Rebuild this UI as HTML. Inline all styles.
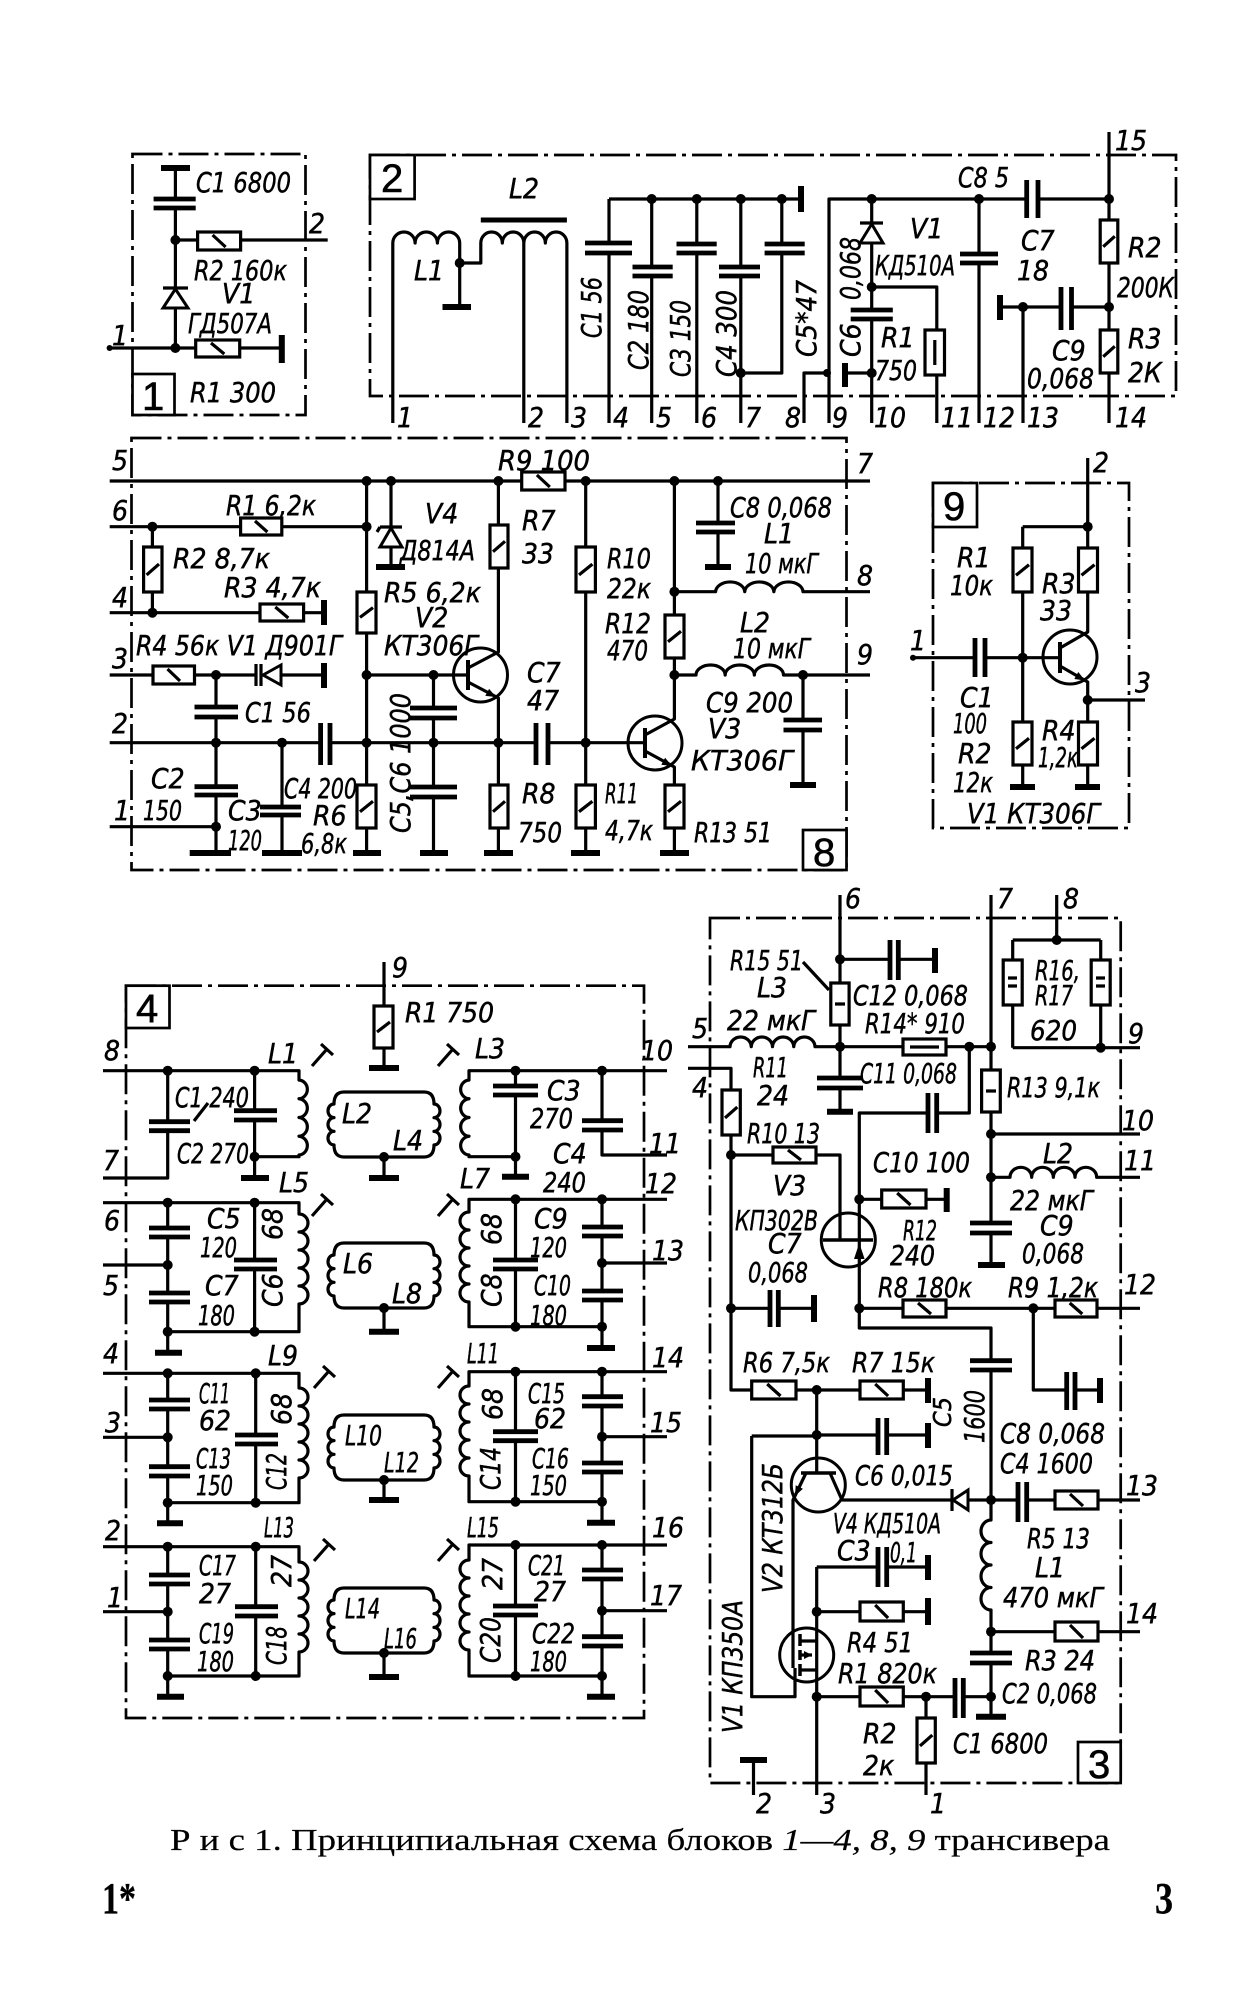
<!DOCTYPE html>
<html><head><meta charset="utf-8"><style>
html,body{margin:0;padding:0;background:#fff}
svg{display:block}
.w{stroke:#000;stroke-width:3.2;fill:none;stroke-linejoin:round}
.p{stroke:#000;stroke-width:4.8;fill:none}
.g{stroke:#000;stroke-width:6;fill:none}
.c{stroke:#000;stroke-width:5;fill:none}
.r{stroke:#000;stroke-width:3.2;fill:#fff}
.b{stroke:#000;stroke-width:2.7;fill:none;stroke-dasharray:30 6 4 6}
.lb{stroke:#000;stroke-width:2.7;fill:#fff}
.tr{stroke:#000;stroke-width:3;fill:none}
.d{fill:#000}
.k{fill:#000;stroke:none}
.wt{fill:#fff;stroke:#000;stroke-width:3}
text{font-family:"DejaVu Sans Condensed","Liberation Sans Narrow","Liberation Sans",sans-serif;font-style:italic;font-size:28px;fill:#000;stroke:#000;stroke-width:0.45}
text.n{font-family:"Liberation Sans",sans-serif;font-style:normal;font-size:40px;stroke-width:0.6}
text.cap{font-family:"Liberation Serif",serif;font-style:normal;font-size:31px;stroke-width:0.2}
text.pg{font-family:"Liberation Serif",serif;font-style:normal;font-weight:bold;font-size:44px;stroke-width:0.3}
</style></head><body>
<svg width="1253" height="2000" viewBox="0 0 1253 2000" xmlns="http://www.w3.org/2000/svg">
<defs>
<path id="loop" d="M344,0 H424 Q434,0 434,12 a6,6.83 0 0 1 0,13.67 a6,6.83 0 0 1 0,13.67 a6,6.83 0 0 1 0,13.67 Q434,65 424,65 H344 Q334,65 334,53 a6,6.83 0 0 1 0,-13.67 a6,6.83 0 0 1 0,-13.67 a6,6.83 0 0 1 0,-13.67 Q334,0 344,0 Z"/>
<path id="tn" d="M0,18 L15,1 M9,-4 L21,7"/>
</defs>
<rect width="1253" height="2000" fill="#fff"/>

<!-- ================= BLOCK 1 ================= -->
<path class="b" d="M132.5,154 H305.5 V415 H132.5 Z"/>
<rect class="lb" x="132.5" y="374" width="42" height="41"/>
<text class="n" x="142" y="410">1</text>
<path class="w" d="M175.4,168 V199 M175.4,208 V348 M175.4,240 H327.7 M109.6,348 H281.8"/>
<path class="p" d="M153.6,199 H195.7 M153.6,208 H195.7"/>
<path class="g" d="M161,168 H190 M281.8,335 V363"/>
<rect class="r" x="197.6" y="232" width="43" height="18"/>
<rect class="r" x="195.7" y="340" width="44" height="17"/>
<path class="w" d="M212.6,235 L225.6,247 M211,343 L224.3,354 M163,288 H188"/>
<polygon class="wt" points="175.4,289 163,308 188,308"/>
<circle class="d" cx="175.4" cy="240" r="5"/><circle class="d" cx="175.4" cy="348" r="5"/><circle class="d" cx="109.6" cy="348" r="3"/>
<text x="196" y="192" textLength="95" lengthAdjust="spacingAndGlyphs">C1 6800</text>
<text x="194" y="280" textLength="93" lengthAdjust="spacingAndGlyphs">R2 160к</text>
<text x="222" y="303">V1</text>
<text x="188" y="333" textLength="84" lengthAdjust="spacingAndGlyphs">ГД507А</text>
<text x="190" y="402" textLength="86" lengthAdjust="spacingAndGlyphs">R1 300</text>
<text x="309" y="233">2</text>
<text x="112" y="345">1</text>

<!-- ================= BLOCK 2 ================= -->
<path class="b" d="M370,155 H1176 V396 H370 Z"/>
<rect class="lb" x="370" y="155" width="44.6" height="44"/>
<text class="n" x="381" y="192">2</text>
<path class="w" d="M392.8,423 V243 a11.15,11 0 0 1 22.3,0 a11.15,11 0 0 1 22.3,0 a11.15,11 0 0 1 22.3,0 V307
M459.7,263 H480.8 V243 a10.76,11 0 0 1 21.52,0 a10.76,11 0 0 1 21.52,0 a10.76,11 0 0 1 21.52,0 a10.76,11 0 0 1 21.52,0 V423
M523.8,243 V423
M609,199 H801
M609,199 V243 M609,253 V423
M651.7,199 V267 M651.7,276 V423
M696.8,199 V244 M696.8,253 V423
M740.8,199 V267 M740.8,276 V423
M781.8,199 V244 M781.8,253 V373 H740.8
M804,423 V373 H827
M829,423 V199 H1026.7 M1038,199 H1109
M871.7,199 V287 H936.8 V423
M871.7,287 V310 M871.7,319 V423 M845,373 H871.7
M979,199 V254 M979,263 V423
M1109,132 V423
M1109,307 H1071.5 M1061,307 H1000 M1023,307 V423"/>
<path class="c" d="M480.8,220 H566.9"/>
<path class="p" d="M585,243 H632 M585,253 H632 M632.5,267 H672.7 M632.5,276 H672.7 M676.5,244 H716.7 M676.5,253 H716.7 M719,267 H760 M719,276 H760 M764.6,244 H804.7 M764.6,253 H804.7 M850.7,310 H892.8 M850.7,319 H892.8 M960,254 H998 M960,263 H998 M1026.7,180 V218 M1038,180 V218 M1061,287 V330 M1071.5,287 V330"/>
<path class="g" d="M442.5,307 H471 M801,186 V212 M845,363 V387 M1000,295 V320"/>
<rect class="r" x="925" y="330" width="19.5" height="45"/>
<rect class="r" x="1100.2" y="220" width="17.6" height="43"/>
<rect class="r" x="1100.2" y="330" width="17.6" height="43"/>
<path class="w" d="M934.8,340 V365 M1103.2,246.7 L1114.8,236.3 M1103.2,356.7 L1114.8,346.3 M860,223 H883"/>
<polygon class="wt" points="871.7,224 860,243 883,243"/>
<g class="d">
<circle cx="651.7" cy="199" r="5"/><circle cx="696.8" cy="199" r="5"/><circle cx="740.8" cy="199" r="5"/><circle cx="781.8" cy="199" r="5"/>
<circle cx="459.7" cy="263" r="5"/><circle cx="740.8" cy="373" r="5"/><circle cx="827" cy="373" r="4"/>
<circle cx="871.7" cy="199" r="5"/><circle cx="871.7" cy="287" r="5"/><circle cx="871.7" cy="373" r="5"/>
<circle cx="979" cy="199" r="5"/><circle cx="1109" cy="199" r="5"/><circle cx="1109" cy="307" r="5"/><circle cx="1023" cy="307" r="5"/>
</g>
<text x="414" y="280">L1</text>
<text x="509" y="198">L2</text>
<text transform="translate(601,338) rotate(-90)" textLength="61" lengthAdjust="spacingAndGlyphs">C1 56</text>
<text transform="translate(648,370) rotate(-90)" textLength="80" lengthAdjust="spacingAndGlyphs">C2 180</text>
<text transform="translate(690,377) rotate(-90)" textLength="77" lengthAdjust="spacingAndGlyphs">C3 150</text>
<text transform="translate(736,377) rotate(-90)" textLength="87" lengthAdjust="spacingAndGlyphs">C4 300</text>
<text transform="translate(816,357) rotate(-90)" textLength="77" lengthAdjust="spacingAndGlyphs">C5*47</text>
<text transform="translate(860,300) rotate(-90)" textLength="63" lengthAdjust="spacingAndGlyphs">0,068</text>
<text transform="translate(860,357) rotate(-90)">C6</text>
<text x="958" y="187" textLength="51" lengthAdjust="spacingAndGlyphs">C8 5</text>
<text x="910" y="238">V1</text>
<text x="875" y="275" textLength="80" lengthAdjust="spacingAndGlyphs">КД510А</text>
<text x="881" y="347">R1</text>
<text x="875" y="380" textLength="42" lengthAdjust="spacingAndGlyphs">750</text>
<text x="1021" y="250">C7</text>
<text x="1017" y="280">18</text>
<text x="1128" y="257">R2</text>
<text x="1117" y="297" textLength="57" lengthAdjust="spacingAndGlyphs">200К</text>
<text x="1052" y="360">C9</text>
<text x="1027" y="388" textLength="67" lengthAdjust="spacingAndGlyphs">0,068</text>
<text x="1128" y="348">R3</text>
<text x="1128" y="382">2К</text>
<text x="1115" y="150">15</text>
<text x="397" y="427">1</text><text x="528" y="427">2</text><text x="571" y="427">3</text>
<text x="613" y="427">4</text><text x="656" y="427">5</text><text x="701" y="427">6</text>
<text x="745" y="427">7</text><text x="785" y="427">8</text><text x="832" y="427">9</text>
<text x="874" y="427">10</text><text x="941" y="427">11</text><text x="983" y="427">12</text>
<text x="1027" y="427">13</text><text x="1115" y="427">14</text>

<!-- ================= BLOCK 8 ================= -->
<path class="b" d="M131.5,438 H846.5 V870 H131.5 Z"/>
<rect class="lb" x="803" y="830" width="43.5" height="40"/>
<text class="n" x="813" y="866">8</text>
<path class="w" d="M109.7,481 H870
M109.7,526.7 H366.6
M152.4,526.7 V612.7
M109.7,612.7 H324
M109.7,675 H256 M280,675 H324
M216,675 V707 M216,717 V786.7 M216,795 V853
M109.7,742.7 H320.6 M330,742.7 H536 M548,742.7 H645
M109.7,826.7 H216
M282,742.7 V807 M282,815 V853
M366.6,481 V853
M391,481 V567
M366.6,675 H468
M433.5,675 V708 M433.5,718 V787 M433.5,797 V853
M468,668 L498.4,652 V481
M468,682 L498.4,698 V853
M585.7,481 V853
M645,735 L674.4,719 V481
M645,751 L674.4,767 V853
M674.4,591.7 H715.6 a14.57,10 0 0 1 29.13,0 a14.57,10 0 0 1 29.13,0 a14.57,10 0 0 1 29.13,0 H870
M674.4,675 H696 a14.58,10 0 0 1 29.17,0 a14.58,10 0 0 1 29.17,0 a14.58,10 0 0 1 29.17,0 H870
M718,481 V523 M718,532 V567
M803,675 V720 M803,730 V785"/>
<path class="p" d="M194.5,707 H238 M194.5,717 H238 M194.5,786.7 H238 M194.5,795 H238 M260,807 H301 M260,815 H301 M320.6,723 V765 M330,723 V765 M410,708 H457 M410,718 H457 M410,787 H457 M410,797 H457 M536,723 V765 M548,723 V765 M696,523 H735 M696,532 H735 M783.5,720 H822 M783.5,730 H822"/>
<path class="g" d="M324,600 V625 M324,663 V688 M189.7,853 H231 M262,853 H302 M353,853 H381 M376,567 H405 M420,853 H448 M484,853 H513 M571,853 H600 M660,853 H689 M705,567 H731 M790,785 H816"/>
<path class="c" d="M468,660 V690 M645,728 V758" style="stroke-width:4"/>
<circle class="tr" cx="480.5" cy="675" r="27"/>
<circle class="tr" cx="655" cy="743" r="27"/>
<polygon class="k" points="496,697 485.3,695.9 489.1,688.9"/>
<polygon class="k" points="672,766 661.3,764.7 665.1,757.7"/>
<rect class="r" x="521.7" y="472" width="43.3" height="18"/>
<rect class="r" x="240.6" y="518" width="41.2" height="17"/>
<rect class="r" x="143.6" y="547" width="18.4" height="45"/>
<rect class="r" x="260" y="604" width="43.6" height="17"/>
<rect class="r" x="153" y="666" width="41.5" height="18"/>
<rect class="r" x="357" y="592" width="19" height="41"/>
<rect class="r" x="357" y="785" width="19" height="43"/>
<rect class="r" x="490" y="525" width="18" height="43"/>
<rect class="r" x="490" y="785" width="18" height="43"/>
<rect class="r" x="576" y="547" width="19.4" height="45"/>
<rect class="r" x="576" y="785" width="19.4" height="43"/>
<rect class="r" x="665" y="615" width="19" height="43"/>
<rect class="r" x="665" y="785" width="19" height="43"/>
<path class="w" d="M536.9,475 L549.8,487 M255,521 L267.4,532 M146.6,574.9 L159,564.1 M275.3,607 L288.3,618 M167.5,669 L180,681 M360,617.4 L373,607.6 M360,811.7 L373,801.3 M493,551.7 L505,541.3 M493,811.7 L505,801.3 M579,574.9 L592.4,564.1 M579,811.7 L592.4,801.3 M668,641.7 L681,631.3 M668,811.7 L681,801.3"/>
<path class="w" d="M380,527 H402 M380,527 l-3,5 M256,664 V686 M261,664 V686"/>
<polygon class="wt" points="391,528 380,547 402,547"/>
<polygon class="wt" points="263,675 281,665 281,685"/>
<g class="d">
<circle cx="366.6" cy="481" r="5"/><circle cx="391" cy="481" r="5"/><circle cx="498.4" cy="481" r="5"/><circle cx="585.7" cy="481" r="5"/><circle cx="674.4" cy="481" r="5"/><circle cx="718" cy="481" r="5"/>
<circle cx="152.4" cy="526.7" r="5"/><circle cx="366.6" cy="526.7" r="5"/><circle cx="152.4" cy="612.7" r="5"/>
<circle cx="216" cy="675" r="5"/><circle cx="366.6" cy="675" r="5"/><circle cx="433.5" cy="675" r="5"/>
<circle cx="216" cy="742.7" r="5"/><circle cx="282" cy="742.7" r="5"/><circle cx="366.6" cy="742.7" r="5"/><circle cx="433.5" cy="742.7" r="5"/><circle cx="498.4" cy="742.7" r="5"/><circle cx="585.7" cy="742.7" r="5"/>
<circle cx="216" cy="826.7" r="5"/><circle cx="674.4" cy="591.7" r="5"/><circle cx="674.4" cy="675" r="5"/><circle cx="803" cy="675" r="5"/>
</g>
<text x="112" y="470">5</text><text x="112" y="520">6</text><text x="112" y="607">4</text><text x="112" y="668">3</text><text x="112" y="733">2</text><text x="114" y="820">1</text>
<text x="498" y="470" textLength="92" lengthAdjust="spacingAndGlyphs">R9 100</text>
<text x="226" y="515" textLength="90" lengthAdjust="spacingAndGlyphs">R1 6,2к</text>
<text x="173" y="568" textLength="97" lengthAdjust="spacingAndGlyphs">R2 8,7к</text>
<text x="224" y="597" textLength="97" lengthAdjust="spacingAndGlyphs">R3 4,7к</text>
<text x="136" y="655" textLength="206" lengthAdjust="spacingAndGlyphs">R4 56к V1 Д901Г</text>
<text x="245" y="722" textLength="66" lengthAdjust="spacingAndGlyphs">C1 56</text>
<text x="151" y="788">C2</text>
<text x="143" y="820" textLength="39" lengthAdjust="spacingAndGlyphs">150</text>
<text x="228" y="820">C3</text>
<text x="228" y="850" textLength="34" lengthAdjust="spacingAndGlyphs">120</text>
<text x="284" y="798" textLength="73" lengthAdjust="spacingAndGlyphs">C4 200</text>
<text x="384" y="602" textLength="97" lengthAdjust="spacingAndGlyphs">R5 6,2к</text>
<text x="313" y="825">R6</text>
<text x="301" y="853" textLength="46" lengthAdjust="spacingAndGlyphs">6,8к</text>
<text x="425" y="523">V4</text>
<text x="400" y="560" textLength="75" lengthAdjust="spacingAndGlyphs">Д814А</text>
<text x="415" y="627">V2</text>
<text x="384" y="655" textLength="94" lengthAdjust="spacingAndGlyphs">КТ306Г</text>
<text x="522" y="530">R7</text><text x="522" y="563">33</text>
<text x="522" y="803">R8</text>
<text x="518" y="842" textLength="44" lengthAdjust="spacingAndGlyphs">750</text>
<text x="527" y="682">C7</text><text x="527" y="710">47</text>
<text x="607" y="568" textLength="44" lengthAdjust="spacingAndGlyphs">R10</text>
<text x="607" y="598" textLength="44" lengthAdjust="spacingAndGlyphs">22к</text>
<text x="605" y="633" textLength="46" lengthAdjust="spacingAndGlyphs">R12</text>
<text x="607" y="660" textLength="41" lengthAdjust="spacingAndGlyphs">470</text>
<text x="605" y="803" textLength="33" lengthAdjust="spacingAndGlyphs">R11</text>
<text x="605" y="840" textLength="48" lengthAdjust="spacingAndGlyphs">4,7к</text>
<text x="694" y="842" textLength="78" lengthAdjust="spacingAndGlyphs">R13 51</text>
<text x="708" y="738">V3</text>
<text x="691" y="770" textLength="102" lengthAdjust="spacingAndGlyphs">КТ306Г</text>
<text x="730" y="517" textLength="102" lengthAdjust="spacingAndGlyphs">C8 0,068</text>
<text x="764" y="543">L1</text>
<text x="745" y="573" textLength="73" lengthAdjust="spacingAndGlyphs">10 мкГ</text>
<text x="740" y="632">L2</text>
<text x="733" y="658" textLength="77" lengthAdjust="spacingAndGlyphs">10 мкГ</text>
<text x="706" y="712" textLength="87" lengthAdjust="spacingAndGlyphs">C9 200</text>
<text transform="translate(410,833) rotate(-90)" textLength="140" lengthAdjust="spacingAndGlyphs">C5,C6  1000</text>
<text x="857" y="473">7</text><text x="857" y="585">8</text><text x="857" y="664">9</text>

<!-- ================= BLOCK 9 ================= -->
<path class="b" d="M933,483 H1129 V828 H933 Z"/>
<rect class="lb" x="933" y="483" width="44" height="44"/>
<text class="n" x="943" y="520">9</text>
<path class="w" d="M1087.7,458 V632 L1060,648
M1022.7,526.7 H1087.7 M1022.7,526.7 V787
M913,657.7 H975 M985,657.7 H1060
M1060,666 L1087.7,682 V787 M1087.7,700 H1145"/>
<path class="c" d="M1060,642 V673" style="stroke-width:4"/>
<circle class="tr" cx="1070" cy="657" r="27"/>
<polygon class="k" points="1085,680.5 1074.3,679 1078.3,672"/>
<path class="p" d="M975,638 V677 M985,638 V677"/>
<path class="g" d="M1010,787 H1035 M1075,787 H1100"/>
<rect class="r" x="1013" y="548" width="19" height="44"/>
<rect class="r" x="1013" y="722" width="19" height="43"/>
<rect class="r" x="1078.5" y="548" width="19" height="44"/>
<rect class="r" x="1078.5" y="722" width="19" height="43"/>
<path class="w" d="M1016,575.3 L1029,564.7 M1016,748.7 L1029,738.3 M1081.5,575.3 L1094.5,564.7 M1081.5,748.7 L1094.5,738.3"/>
<g class="d"><circle cx="1087.7" cy="526.7" r="5"/><circle cx="1022.7" cy="657.7" r="5"/><circle cx="1087.7" cy="700" r="5"/><circle cx="913" cy="657.7" r="3"/></g>
<text x="1093" y="472">2</text><text x="910" y="650">1</text><text x="1135" y="692">3</text>
<text x="957" y="567">R1</text>
<text x="950" y="595" textLength="43" lengthAdjust="spacingAndGlyphs">10к</text>
<text x="1042" y="593">R3</text><text x="1040" y="620">33</text>
<text x="960" y="707">C1</text>
<text x="953" y="733" textLength="34" lengthAdjust="spacingAndGlyphs">100</text>
<text x="958" y="763">R2</text>
<text x="953" y="792" textLength="40" lengthAdjust="spacingAndGlyphs">12к</text>
<text x="1042" y="740">R4</text>
<text x="1038" y="767" textLength="40" lengthAdjust="spacingAndGlyphs">1,2к</text>
<text x="967" y="823" textLength="133" lengthAdjust="spacingAndGlyphs">V1  КТ306Г</text>

<!-- ================= BLOCK 4 ================= -->
<path class="b" d="M126,985.7 H644 V1718 H126 Z"/>
<rect class="lb" x="126" y="985.7" width="43.5" height="42.3"/>
<text class="n" x="136" y="1022">4</text>
<path class="w" d="M384,962 V1068"/>
<rect class="r" x="374" y="1006" width="19" height="42"/>
<path class="w" d="M377,1032 L390,1022"/>
<path class="g" d="M369,1068 H399"/>

<g class="w">
<use href="#loop" y="1092"/><use href="#loop" y="1243"/><use href="#loop" y="1415"/><use href="#loop" y="1588"/>
<use href="#tn" x="312" y="1048"/><use href="#tn" x="438" y="1048"/>
<use href="#tn" x="312" y="1198"/><use href="#tn" x="438" y="1198"/>
<use href="#tn" x="314" y="1370"/><use href="#tn" x="438" y="1370"/>
<use href="#tn" x="314" y="1543"/><use href="#tn" x="438" y="1543"/>
</g>
<path class="w" d="M384,1157 V1178 M384,1308 V1331.7 M384,1480 V1500 M384,1653 V1677"/>
<path class="g" d="M369,1178 H399 M369,1331.7 H399 M369,1500 H399 M369,1677 H399"/>

<path class="w" d="M103,1070.7 H299 V1080 a9,9.4 0 0 1 0,18.75 a9,9.4 0 0 1 0,18.75 a9,9.4 0 0 1 0,18.75 a9,9.4 0 0 1 0,18.75 V1156.7 H254.6
M167.7,1070.7 V1121.7 M167.7,1130.7 V1178 H103
M254.6,1070.7 V1110.7 M254.6,1120 V1178
M208,1103 L194,1121
M667,1070.7 H469 V1080 a9,9.4 0 0 0 0,18.75 a9,9.4 0 0 0 0,18.75 a9,9.4 0 0 0 0,18.75 a9,9.4 0 0 0 0,18.75 V1156.7 H515.5
M515.5,1070.7 V1086 M515.5,1095 V1176.7
M602,1070.7 V1120.7 M602,1130 V1155 H667"/>
<path class="p" d="M149,1121.7 H190 M149,1130.7 H190 M234,1110.7 H277 M234,1120 H277 M493,1086 H538 M493,1095 H538 M582,1120.7 H623 M582,1130 H623"/>
<path class="g" d="M241,1178 H269 M502,1176.7 H529"/>
<path class="w" d="M103,1202.7 H299 V1214 a9,9 0 0 1 0,18 a9,9 0 0 1 0,18 a9,9 0 0 1 0,18 a9,9 0 0 1 0,18 a9,9 0 0 1 0,18 V1331.7 H167.7
M167.7,1202.7 V1228 M167.7,1237 V1293 M167.7,1302 V1352.7
M103,1265 H167.7
M254.6,1202.7 V1260 M254.6,1269 V1331.7
M667,1199.3 H469 V1212 a9,9 0 0 0 0,18 a9,9 0 0 0 0,18 a9,9 0 0 0 0,18 a9,9 0 0 0 0,18 a9,9 0 0 0 0,18 V1326.7 H602
M515.5,1199.3 V1260 M515.5,1269 V1326.7
M602,1199.3 V1227 M602,1236 V1291 M602,1300 V1348
M602,1263 H667"/>
<path class="p" d="M149,1228 H190 M149,1237 H190 M149,1293 H190 M149,1302 H190 M234,1260 H277 M234,1269 H277 M493,1260 H538 M493,1269 H538 M582,1227 H623 M582,1236 H623 M582,1291 H623 M582,1300 H623"/>
<path class="g" d="M155,1352.7 H182 M587,1348 H615"/>
<path class="w" d="M103,1373.3 H299 V1388 a9,9 0 0 1 0,18 a9,9 0 0 1 0,18 a9,9 0 0 1 0,18 a9,9 0 0 1 0,18 a9,9 0 0 1 0,18 V1502.7 H167.7
M167.7,1373.3 V1400 M167.7,1409 V1466.7 M167.7,1476 V1523.3
M103,1437.3 H167.7
M255.7,1373.3 V1435 M255.7,1444 V1502.7
M667,1371.7 H469 V1386 a9,9 0 0 0 0,18 a9,9 0 0 0 0,18 a9,9 0 0 0 0,18 a9,9 0 0 0 0,18 a9,9 0 0 0 0,18 V1501.7 H602
M515.5,1371.7 V1431.7 M515.5,1440.7 V1501.7
M602,1371.7 V1396.7 M602,1406 V1463 M602,1472 V1522.7
M602,1436.7 H667"/>
<path class="p" d="M149,1400 H190 M149,1409 H190 M149,1466.7 H190 M149,1476 H190 M235,1435 H278 M235,1444 H278 M493,1431.7 H538 M493,1440.7 H538 M582,1396.7 H623 M582,1406 H623 M582,1463 H623 M582,1472 H623"/>
<path class="g" d="M157,1523.3 H183 M587,1522.7 H615"/>
<path class="w" d="M103,1546.7 H299 V1562 a9,9 0 0 1 0,18 a9,9 0 0 1 0,18 a9,9 0 0 1 0,18 a9,9 0 0 1 0,18 a9,9 0 0 1 0,18 V1676 H167.7
M167.7,1546.7 V1575 M167.7,1584 V1640 M167.7,1649 V1696.7
M103,1611.7 H167.7
M255.7,1546.7 V1606.7 M255.7,1616 V1676
M667,1545 H469 V1560 a9,9 0 0 0 0,18 a9,9 0 0 0 0,18 a9,9 0 0 0 0,18 a9,9 0 0 0 0,18 a9,9 0 0 0 0,18 V1676 H602
M515.5,1545 V1606 M515.5,1615 V1676
M602,1545 V1570 M602,1579 V1636.7 M602,1646 V1696.7
M602,1610.7 H667"/>
<path class="p" d="M149,1575 H190 M149,1584 H190 M149,1640 H190 M149,1649 H190 M235,1606.7 H278 M235,1616 H278 M493,1606 H538 M493,1615 H538 M582,1570 H623 M582,1579 H623 M582,1636.7 H623 M582,1646 H623"/>
<path class="g" d="M157,1696.7 H184 M587,1696.7 H615"/>
<g class="d">
<circle cx="167.7" cy="1070.7" r="5"/><circle cx="254.6" cy="1070.7" r="5"/><circle cx="254.6" cy="1156.7" r="5"/>
<circle cx="515.5" cy="1070.7" r="5"/><circle cx="602" cy="1070.7" r="5"/><circle cx="515.5" cy="1156.7" r="5"/>
<circle cx="167.7" cy="1202.7" r="5"/><circle cx="254.6" cy="1202.7" r="5"/><circle cx="167.7" cy="1265" r="5"/><circle cx="167.7" cy="1331.7" r="5"/><circle cx="254.6" cy="1331.7" r="5"/>
<circle cx="515.5" cy="1199.3" r="5"/><circle cx="602" cy="1199.3" r="5"/><circle cx="602" cy="1263" r="5"/><circle cx="515.5" cy="1326.7" r="5"/><circle cx="602" cy="1326.7" r="5"/>
<circle cx="167.7" cy="1373.3" r="5"/><circle cx="255.7" cy="1373.3" r="5"/><circle cx="167.7" cy="1437.3" r="5"/><circle cx="167.7" cy="1502.7" r="5"/><circle cx="255.7" cy="1502.7" r="5"/>
<circle cx="515.5" cy="1371.7" r="5"/><circle cx="602" cy="1371.7" r="5"/><circle cx="602" cy="1436.7" r="5"/><circle cx="515.5" cy="1501.7" r="5"/><circle cx="602" cy="1501.7" r="5"/>
<circle cx="167.7" cy="1546.7" r="5"/><circle cx="255.7" cy="1546.7" r="5"/><circle cx="167.7" cy="1611.7" r="5"/><circle cx="167.7" cy="1676" r="5"/><circle cx="255.7" cy="1676" r="5"/>
<circle cx="515.5" cy="1545" r="5"/><circle cx="602" cy="1545" r="5"/><circle cx="602" cy="1610.7" r="5"/><circle cx="515.5" cy="1676" r="5"/><circle cx="602" cy="1676" r="5"/>
<circle cx="384" cy="1157" r="5"/><circle cx="384" cy="1308" r="5"/><circle cx="384" cy="1480" r="5"/><circle cx="384" cy="1653" r="5"/>
</g>
<text x="392" y="977">9</text>
<text x="405" y="1022" textLength="89" lengthAdjust="spacingAndGlyphs">R1 750</text>
<text x="104" y="1060">8</text><text x="103" y="1170">7</text>
<text x="268" y="1063">L1</text><text x="279" y="1192">L5</text>
<text x="175" y="1107" textLength="74" lengthAdjust="spacingAndGlyphs">C1 240</text>
<text x="177" y="1163" textLength="72" lengthAdjust="spacingAndGlyphs">C2 270</text>
<text x="342" y="1123">L2</text><text x="393" y="1150">L4</text>
<text x="475" y="1058">L3</text>
<text x="547" y="1100">C3</text>
<text x="530" y="1128" textLength="43" lengthAdjust="spacingAndGlyphs">270</text>
<text x="553" y="1163">C4</text>
<text x="543" y="1192" textLength="43" lengthAdjust="spacingAndGlyphs">240</text>
<text x="460" y="1188">L7</text>
<text x="641" y="1060">10</text><text x="649" y="1153">11</text>
<text x="104" y="1230">6</text><text x="103" y="1295">5</text>
<text x="207" y="1228">C5</text>
<text x="200" y="1257" textLength="37" lengthAdjust="spacingAndGlyphs">120</text>
<text x="205" y="1295">C7</text>
<text x="198" y="1325" textLength="37" lengthAdjust="spacingAndGlyphs">180</text>
<text transform="translate(282,1240) rotate(-90)">68</text>
<text transform="translate(282,1307) rotate(-90)">C6</text>
<text x="343" y="1273">L6</text><text x="392" y="1303">L8</text>
<text x="645" y="1193">12</text><text x="652" y="1260">13</text>
<text transform="translate(501,1245) rotate(-90)">68</text>
<text transform="translate(501,1307) rotate(-90)">C8</text>
<text x="534" y="1228">C9</text>
<text x="530" y="1257" textLength="37" lengthAdjust="spacingAndGlyphs">120</text>
<text x="534" y="1295" textLength="37" lengthAdjust="spacingAndGlyphs">C10</text>
<text x="530" y="1325" textLength="37" lengthAdjust="spacingAndGlyphs">180</text>
<text x="103" y="1363">4</text><text x="105" y="1432">3</text>
<text x="268" y="1365">L9</text>
<text x="199" y="1403" textLength="31" lengthAdjust="spacingAndGlyphs">C11</text>
<text x="199" y="1430">62</text>
<text x="196" y="1468" textLength="35" lengthAdjust="spacingAndGlyphs">C13</text>
<text x="196" y="1495" textLength="37" lengthAdjust="spacingAndGlyphs">150</text>
<text transform="translate(291,1425) rotate(-90)">68</text>
<text transform="translate(286,1490) rotate(-90)" textLength="37" lengthAdjust="spacingAndGlyphs">C12</text>
<text x="345" y="1445" textLength="37" lengthAdjust="spacingAndGlyphs">L10</text>
<text x="384" y="1472" textLength="35" lengthAdjust="spacingAndGlyphs">L12</text>
<text x="467" y="1363" textLength="32" lengthAdjust="spacingAndGlyphs">L11</text>
<text x="652" y="1367">14</text><text x="650" y="1432">15</text>
<text x="528" y="1403" textLength="37" lengthAdjust="spacingAndGlyphs">C15</text>
<text x="534" y="1428">62</text>
<text x="532" y="1468" textLength="37" lengthAdjust="spacingAndGlyphs">C16</text>
<text x="530" y="1495" textLength="37" lengthAdjust="spacingAndGlyphs">150</text>
<text transform="translate(502,1420) rotate(-90)">68</text>
<text transform="translate(500,1490) rotate(-90)" textLength="43" lengthAdjust="spacingAndGlyphs">C14</text>
<text x="105" y="1540">2</text><text x="107" y="1607">1</text>
<text x="264" y="1537" textLength="30" lengthAdjust="spacingAndGlyphs">L13</text>
<text x="199" y="1575" textLength="37" lengthAdjust="spacingAndGlyphs">C17</text>
<text x="199" y="1603">27</text>
<text x="199" y="1643" textLength="35" lengthAdjust="spacingAndGlyphs">C19</text>
<text x="197" y="1671" textLength="37" lengthAdjust="spacingAndGlyphs">180</text>
<text transform="translate(291,1587) rotate(-90)">27</text>
<text transform="translate(286,1665) rotate(-90)" textLength="39" lengthAdjust="spacingAndGlyphs">C18</text>
<text x="345" y="1618" textLength="35" lengthAdjust="spacingAndGlyphs">L14</text>
<text x="384" y="1648" textLength="33" lengthAdjust="spacingAndGlyphs">L16</text>
<text x="467" y="1537" textLength="32" lengthAdjust="spacingAndGlyphs">L15</text>
<text x="652" y="1537">16</text><text x="650" y="1605">17</text>
<text x="528" y="1575" textLength="37" lengthAdjust="spacingAndGlyphs">C21</text>
<text x="534" y="1601">27</text>
<text x="532" y="1643" textLength="43" lengthAdjust="spacingAndGlyphs">C22</text>
<text x="530" y="1671" textLength="37" lengthAdjust="spacingAndGlyphs">180</text>
<text transform="translate(502,1590) rotate(-90)">27</text>
<text transform="translate(500,1663) rotate(-90)" textLength="46" lengthAdjust="spacingAndGlyphs">C20</text>

<!-- ================= BLOCK 3 ================= -->
<path class="b" d="M710,918 H1120.7 V1783 H710 Z"/>
<rect class="lb" x="1078" y="1742" width="42.7" height="41"/>
<text class="n" x="1088" y="1778">3</text>
<path class="w" d="M840,895 V983 M840,1025 V1078 M840,1088 V1111.7
M840,959.3 H890 M898.3,959.3 H935
M688,1046.7 H730 a10.63,10 0 0 1 21.25,0 a10.63,10 0 0 1 21.25,0 a10.63,10 0 0 1 21.25,0 a10.63,10 0 0 1 21.25,0 H991
M688,1068.3 H731 V1390 H928
M731,1155 H840 V1240
M991,895 V1223 M991,1233 V1265
M991,1134 H1140
M991,1177.3 H1010 a10.83,10 0 0 1 21.67,0 a10.83,10 0 0 1 21.67,0 a10.83,10 0 0 1 21.67,0 a10.83,10 0 0 1 21.67,0 H1140
M1056.7,895 V940 M1012.7,940 H1100.7 M1012.7,940 V1047.7 M1100.7,940 V1047.7 M1012.7,1047.7 H1140
M969.3,1046.7 V1113 H936.7 M928,1113 H859.3 V1308.3
M859.3,1199.3 H946.7
M731,1308.3 H770 M778.3,1308.3 H814
M859.3,1308.3 H1140
M1033.3,1308.3 V1390 H1066.7 M1075,1390 H1100
M859.3,1308.3 V1328 H991 V1360.7 M991,1370 V1520 a10,11.25 0 0 0 0,22.5 a10,11.25 0 0 0 0,22.5 a10,11.25 0 0 0 0,22.5 a10,11.25 0 0 0 0,22.5 V1653 M991,1663 V1716.7
M816.7,1390 V1473
M751.7,1436 H816.7 M751.7,1436 V1696.7 H795 V1668
M816.7,1435 H878 M886.7,1435 H928
M806,1473 L793,1500 V1668
M830,1473 L842,1500 H952
M968,1500 H1018 M1026.7,1500 H1140
M991,1631.7 H1140
M816.7,1567 V1795
M816.7,1567 H878 M886.7,1567 H928
M816.7,1611.7 H928
M816.7,1696.7 H955 M963.3,1696.7 H991
M926,1696.7 V1795
M753.5,1760 V1795
M803,962 L829,990
M800,1641 H816.7 M800,1670 H816.7 M800,1655 H812"/>
<path class="c" d="M801,1473 H836 M823,1240 H873 M800,1634 V1646 M800,1650 V1660 M800,1664 V1676" style="stroke-width:3.5"/>
<circle class="tr" cx="848.3" cy="1240" r="27"/>
<circle class="tr" cx="818.3" cy="1485" r="27"/>
<circle class="tr" cx="806.7" cy="1655" r="27"/>
<polygon class="k" points="859.3,1243 854,1259 864.6,1259"/>
<polygon class="k" points="795,1496 802.9,1488.7 795.7,1485.3"/>
<polygon class="k" points="812,1655 804,1651 804,1659"/>
<path class="p" d="M890,940 V980 M898.3,940 V980 M817,1078 H863 M817,1088 H863 M970,1223 H1012 M970,1233 H1012 M936.7,1093 V1133 M928,1093 V1133 M770,1290 V1327 M778.3,1290 V1327 M1066.7,1372 V1410 M1075,1372 V1410 M970,1360.7 H1012 M970,1370 H1012 M878,1418 V1455 M886.7,1418 V1455 M1018,1482 V1522 M1026.7,1482 V1522 M970,1653 H1012 M970,1663 H1012 M955,1678 V1718 M963.3,1678 V1718 M878,1547 V1587 M886.7,1547 V1587"/>
<path class="g" d="M935,948 V973 M827,1111.7 H853 M978,1265 H1005 M946.7,1188 V1212 M814,1295 V1322 M1100,1378 V1403 M928,1378 V1403 M928,1423 V1448 M928,1555 V1580 M928,1598 V1625 M976,1716.7 H1006 M740,1760 H767"/>
<rect class="r" x="830.8" y="983" width="18.3" height="42"/>
<rect class="r" x="903" y="1039" width="43" height="16"/>
<rect class="r" x="1003.2" y="960" width="19" height="45"/>
<rect class="r" x="1091.2" y="960" width="19" height="45"/>
<rect class="r" x="722" y="1090" width="18.3" height="45"/>
<rect class="r" x="981.6" y="1070" width="18.7" height="42"/>
<rect class="r" x="773" y="1147" width="43" height="16"/>
<rect class="r" x="881.7" y="1190" width="44.3" height="18"/>
<rect class="r" x="903" y="1300" width="43" height="17"/>
<rect class="r" x="1055" y="1300" width="42" height="17"/>
<rect class="r" x="751.7" y="1381" width="44.3" height="18"/>
<rect class="r" x="860" y="1381" width="43.3" height="18"/>
<rect class="r" x="1055" y="1491" width="43" height="18"/>
<rect class="r" x="860" y="1602" width="43.3" height="19"/>
<rect class="r" x="1055" y="1622" width="43" height="19"/>
<rect class="r" x="860" y="1687" width="43.3" height="19"/>
<rect class="r" x="917" y="1718" width="18.3" height="45"/>
<path class="w" d="M835,1004 H845 M910,1047 H939 M1008,978 H1017 M1008,986 H1017 M1096,978 H1105 M1096,986 H1105 M986,1091 H996
M725,1117.9 L737.3,1107.1 M788,1150 L801,1160 M897.2,1193 L910.5,1205 M918,1303 L931,1314 M1069.7,1303 L1082.3,1314 M767.2,1384 L780.5,1396 M875.2,1384 L888.1,1396 M1070,1494 L1083,1506 M875.2,1605 L888.1,1618 M1070,1625 L1083,1638 M875.2,1690 L888.1,1703 M920,1745.9 L932.3,1735.1
M952,1489 V1511"/>
<polygon class="wt" points="953,1500 968,1490 968,1510"/>
<g class="d">
<circle cx="840" cy="959.3" r="5"/><circle cx="840" cy="1046.7" r="5"/><circle cx="969.3" cy="1046.7" r="5"/><circle cx="991" cy="1046.7" r="5"/>
<circle cx="731" cy="1155" r="5"/><circle cx="991" cy="1134" r="5"/><circle cx="991" cy="1177.3" r="5"/><circle cx="1056.7" cy="940" r="5"/><circle cx="1100.7" cy="1047.7" r="5"/>
<circle cx="859.3" cy="1199.3" r="5"/><circle cx="731" cy="1308.3" r="5"/><circle cx="859.3" cy="1308.3" r="5"/><circle cx="1033.3" cy="1308.3" r="5"/>
<circle cx="816.7" cy="1390" r="5"/><circle cx="816.7" cy="1435" r="5"/><circle cx="991" cy="1500" r="5"/><circle cx="991" cy="1631.7" r="5"/>
<circle cx="816.7" cy="1611.7" r="5"/><circle cx="816.7" cy="1696.7" r="5"/><circle cx="926" cy="1696.7" r="5"/><circle cx="991" cy="1696.7" r="5"/>
</g>
<text x="730" y="970" textLength="73" lengthAdjust="spacingAndGlyphs">R15 51</text>
<text x="757" y="997">L3</text>
<text x="727" y="1030" textLength="88" lengthAdjust="spacingAndGlyphs">22 мкГ</text>
<text x="853" y="1005" textLength="115" lengthAdjust="spacingAndGlyphs">C12 0,068</text>
<text x="865" y="1033" textLength="100" lengthAdjust="spacingAndGlyphs">R14* 910</text>
<text x="1035" y="980" textLength="45" lengthAdjust="spacingAndGlyphs">R16,</text>
<text x="1035" y="1005" textLength="38" lengthAdjust="spacingAndGlyphs">R17</text>
<text x="1030" y="1040" textLength="47" lengthAdjust="spacingAndGlyphs">620</text>
<text x="692" y="1038">5</text><text x="692" y="1097">4</text>
<text x="753" y="1077" textLength="35" lengthAdjust="spacingAndGlyphs">R11</text>
<text x="757" y="1105">24</text>
<text x="860" y="1083" textLength="97" lengthAdjust="spacingAndGlyphs">C11 0,068</text>
<text x="1007" y="1097" textLength="93" lengthAdjust="spacingAndGlyphs">R13 9,1к</text>
<text x="747" y="1143" textLength="73" lengthAdjust="spacingAndGlyphs">R10 13</text>
<text x="873" y="1172" textLength="97" lengthAdjust="spacingAndGlyphs">C10 100</text>
<text x="1043" y="1163">L2</text>
<text x="1010" y="1210" textLength="83" lengthAdjust="spacingAndGlyphs">22 мкГ</text>
<text x="1040" y="1235">C9</text>
<text x="1022" y="1263" textLength="62" lengthAdjust="spacingAndGlyphs">0,068</text>
<text x="903" y="1240" textLength="34" lengthAdjust="spacingAndGlyphs">R12</text>
<text x="890" y="1265" textLength="45" lengthAdjust="spacingAndGlyphs">240</text>
<text x="773" y="1195">V3</text>
<text x="735" y="1230" textLength="83" lengthAdjust="spacingAndGlyphs">КП302В</text>
<text x="768" y="1253">C7</text>
<text x="748" y="1282" textLength="60" lengthAdjust="spacingAndGlyphs">0,068</text>
<text x="878" y="1297" textLength="94" lengthAdjust="spacingAndGlyphs">R8 180к</text>
<text x="1008" y="1297" textLength="90" lengthAdjust="spacingAndGlyphs">R9 1,2к</text>
<text x="743" y="1372" textLength="87" lengthAdjust="spacingAndGlyphs">R6 7,5к</text>
<text x="852" y="1372" textLength="83" lengthAdjust="spacingAndGlyphs">R7 15к</text>
<text x="1000" y="1443" textLength="105" lengthAdjust="spacingAndGlyphs">C8 0,068</text>
<text x="1000" y="1473" textLength="93" lengthAdjust="spacingAndGlyphs">C4 1600</text>
<text x="855" y="1485" textLength="98" lengthAdjust="spacingAndGlyphs">C6 0,015</text>
<text x="833" y="1533" textLength="108" lengthAdjust="spacingAndGlyphs">V4 КД510А</text>
<text x="1027" y="1548" textLength="63" lengthAdjust="spacingAndGlyphs">R5 13</text>
<text x="1035" y="1577">L1</text>
<text x="1003" y="1607" textLength="100" lengthAdjust="spacingAndGlyphs">470 мкГ</text>
<text x="837" y="1560">C3</text>
<text x="890" y="1562" textLength="27" lengthAdjust="spacingAndGlyphs">0,1</text>
<text x="847" y="1652" textLength="66" lengthAdjust="spacingAndGlyphs">R4 51</text>
<text x="1025" y="1670" textLength="70" lengthAdjust="spacingAndGlyphs">R3 24</text>
<text x="838" y="1683" textLength="99" lengthAdjust="spacingAndGlyphs">R1 820к</text>
<text x="1002" y="1703" textLength="95" lengthAdjust="spacingAndGlyphs">C2 0,068</text>
<text x="863" y="1743">R2</text>
<text x="863" y="1775">2к</text>
<text x="953" y="1753" textLength="95" lengthAdjust="spacingAndGlyphs">C1 6800</text>
<text transform="translate(782,1593) rotate(-90)" textLength="130" lengthAdjust="spacingAndGlyphs">V2 КТ312Б</text>
<text transform="translate(742,1733) rotate(-90)" textLength="133" lengthAdjust="spacingAndGlyphs">V1 КП350А</text>
<text transform="translate(951,1427) rotate(-90)" style="font-size:25px">C5</text>
<text transform="translate(984,1443) rotate(-90)" textLength="53" lengthAdjust="spacingAndGlyphs">1600</text>
<text x="845" y="908">6</text><text x="997" y="908">7</text><text x="1063" y="908">8</text>
<text x="1128" y="1043">9</text><text x="1122" y="1130">10</text><text x="1124" y="1170">11</text>
<text x="1124" y="1294">12</text><text x="1126" y="1495">13</text><text x="1126" y="1623">14</text>
<text x="756" y="1813">2</text><text x="820" y="1813">3</text><text x="930" y="1813">1</text>

<!-- ================= CAPTION ================= -->
<text class="cap" x="170" y="1850" textLength="940" lengthAdjust="spacingAndGlyphs">Р и с  1. Принципиальная схема блоков <tspan font-style="italic">1—4, 8, 9</tspan> трансивера</text>
<text class="pg" x="102" y="1913" textLength="34" lengthAdjust="spacingAndGlyphs">1*</text>
<text class="pg" x="1155" y="1913" textLength="18" lengthAdjust="spacingAndGlyphs">3</text>
</svg>
</body></html>
